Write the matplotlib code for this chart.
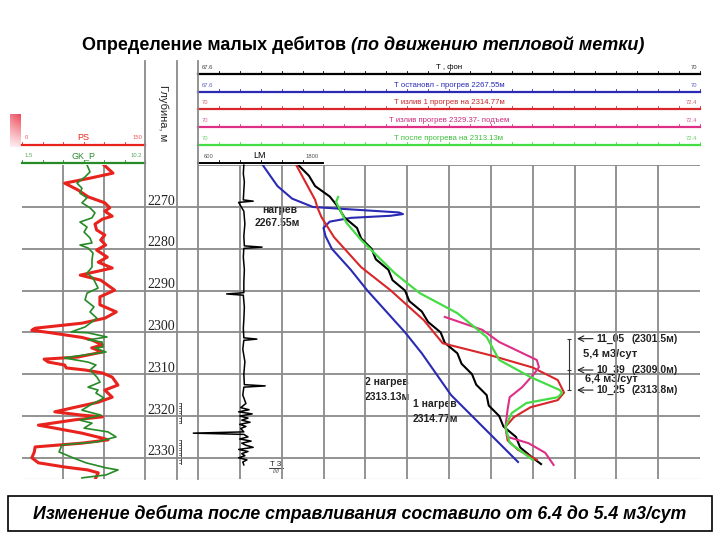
import numpy as np
import matplotlib
matplotlib.use("Agg")
import matplotlib.pyplot as plt

plt.rcParams['font.family'] = ['Liberation Sans', 'DejaVu Sans']

W, H = 720, 540

depth_ticks = [2270, 2280, 2290, 2300, 2310, 2320, 2330]

# PS (0..150) and GK_P (1.5..10.2), left track
ps_depth = [2259.95, 2261.9, 2263.1, 2264.3, 2265.9, 2267.6, 2269.0, 2270.2, 2271.0, 2272.2,
            2272.9, 2274.1, 2275.5, 2276.7, 2277.9, 2279.1, 2280.3, 2282.0, 2283.2, 2284.6,
            2286.3, 2287.5, 2289.9, 2291.5, 2293.4, 2295.1, 2296.6, 2297.8, 2299.0, 2299.5,
            2300.0, 2301.2, 2301.8, 2303.0, 2303.7, 2304.7, 2305.9, 2306.4, 2307.1, 2307.8,
            2308.5, 2309.0, 2309.7, 2310.7, 2312.6, 2313.8, 2315.5, 2316.7, 2317.9, 2319.0,
            2319.8, 2320.2, 2320.9, 2322.2, 2322.9, 2324.1, 2325.3, 2325.7, 2326.5, 2327.4,
            2328.6, 2330.0, 2331.2, 2332.2, 2332.9, 2333.6, 2334.8]
ps_val = [100, 111, 83, 52, 68, 81, 101, 107, 101, 110,
          98, 89, 91, 101, 96, 102, 91, 104, 93, 110,
          71, 96, 113, 95, 95, 115, 101, 73, 16, 12,
          32, 73, 85, 98, 85, 98, 68, 27, 32, 52,
          54, 77, 98, 110, 117, 101, 110, 93, 65, 40,
          73, 98, 65, 20, 40, 73, 98, 105, 73, 16,
          15, 12, 20, 52, 80, 93, 90]

gk_depth = [2259.95, 2261.6, 2262.8, 2264.3, 2265.5, 2266.7, 2267.8, 2269.0, 2270.2, 2271.4,
            2272.6, 2273.6, 2274.8, 2276.0, 2277.4, 2278.6, 2279.1, 2279.8, 2281.0, 2282.7,
            2284.4, 2285.8, 2287.0, 2287.9, 2289.4, 2290.6, 2292.2, 2293.9, 2295.1, 2296.6,
            2298.7, 2299.9, 2300.1, 2301.1, 2301.8, 2302.3, 2303.5, 2303.7, 2304.7, 2305.4,
            2306.1, 2307.1, 2307.8, 2309.0, 2310.7, 2311.9, 2313.1, 2313.8, 2314.5, 2315.7,
            2317.4, 2318.6, 2319.8, 2321.0, 2321.7, 2322.9, 2323.8, 2325.0, 2326.2, 2326.9,
            2328.6, 2330.0, 2331.2, 2332.4, 2332.9, 2334.1, 2334.8]
gk_val = [6.10, 6.31, 5.96, 5.39, 5.74, 5.60, 6.10, 5.74, 6.31, 6.66,
          6.45, 5.60, 6.10, 5.89, 6.31, 6.45, 5.60, 6.17, 6.52, 6.45,
          6.45, 6.10, 6.52, 6.66, 6.88, 6.10, 5.96, 6.59, 6.31, 6.80,
          5.96, 4.97, 6.17, 7.51, 6.17, 7.16, 7.23, 6.66, 7.44, 5.89,
          4.47, 6.17, 6.73, 6.31, 6.80, 7.02, 6.17, 6.88, 6.73, 7.30,
          6.31, 5.74, 7.09, 5.60, 6.45, 5.89, 7.58, 8.15, 6.80, 4.33,
          4.12, 5.11, 6.03, 7.44, 8.29, 7.44, 5.74]

# LM (600..1800)
lm_depth = [2260, 2262, 2264, 2266, 2268.3, 2268.6, 2268.9, 2271, 2274, 2277,
            2279.3, 2279.6, 2279.9, 2282, 2285, 2288, 2290.5, 2290.8, 2291.1, 2294,
            2297, 2299, 2301.3, 2301.6, 2301.9, 2304, 2307, 2310, 2312.5, 2312.8,
            2313.1, 2315, 2317, 2318, 2318.5, 2319, 2319.5, 2320, 2320.5, 2321,
            2321.5, 2322, 2322.5, 2323, 2323.8, 2324.1, 2324.4, 2325, 2325.5, 2326,
            2326.5, 2327, 2327.5, 2328, 2328.5, 2329, 2329.5, 2330, 2330.5, 2331, 2331.7]
lm_val = [1040, 1035, 1045, 1040, 1035, 1130, 990, 1040, 1050, 1040,
          1045, 1215, 1040, 1035, 1045, 1040, 1040, 875, 1035, 1045,
          1040, 1035, 1040, 1165, 1040, 1030, 1050, 1040, 1045, 1245,
          1040, 1030, 1060, 1010, 1090, 990, 1120, 1000, 1080, 1020,
          1100, 1000, 1060, 1010, 1040, 555, 1040, 1080, 1000, 1110,
          1020, 1060, 1130, 990, 1080, 1020, 1050, 990, 1070, 1030, 1040]

# temperature curves
bg_depth = [2260, 2262.5, 2265, 2267.5, 2270, 2272.5, 2275, 2277.5, 2280, 2282.5,
            2285, 2287.5, 2290, 2292.5, 2295, 2297.5, 2300, 2302.5, 2305, 2307.5,
            2310, 2312.5, 2315, 2317.5, 2320, 2322.5, 2325, 2327.5, 2330, 2331.5]
bg_t = [68.08, 68.13, 68.16, 68.23, 68.27, 68.30, 68.36, 68.38, 68.43, 68.45,
        68.51, 68.53, 68.59, 68.61, 68.67, 68.70, 68.76, 68.78, 68.84, 68.86,
        68.91, 68.93, 68.98, 68.99, 69.04, 69.06, 69.12, 69.14, 69.20, 69.24]

stop_depth = [2260, 2265, 2268, 2270, 2270.7, 2271.3, 2271.7, 2272.1, 2272.6, 2273.5,
              2275, 2277, 2280, 2285, 2290, 2295, 2300, 2305, 2310, 2315,
              2320, 2325, 2330, 2331]
stop_t = [67.91, 67.98, 68.05, 68.15, 68.37, 68.56, 68.58, 68.52, 68.33, 68.23,
          68.20, 68.21, 68.24, 68.33, 68.41, 68.50, 68.59, 68.67, 68.74, 68.81,
          68.91, 69.01, 69.11, 69.13]

flow1_depth = [2260, 2268.3, 2270, 2272.4, 2277.2, 2284.4, 2289.9, 2297.1, 2302.6, 2305.5,
               2308.4, 2311.4, 2314.4, 2316.2, 2317.9, 2320.3, 2322.6, 2325.8, 2328.1, 2330.5]
flow1_t = [70.47, 70.56, 70.57, 70.59, 70.65, 70.78, 70.92, 71.08, 71.17, 71.40,
           71.60, 71.72, 71.75, 71.72, 71.59, 71.51, 71.47, 71.48, 71.53, 71.62]

lift_depth = [2296.3, 2299.4, 2302.3, 2306.6, 2308.3, 2309.7, 2313.1, 2315.5, 2318.5, 2322.6,
              2325.0, 2326.5, 2328.8, 2331.7]
lift_t = [71.18, 71.36, 71.44, 71.62, 71.63, 71.61, 71.55, 71.49, 71.48, 71.47,
          71.48, 71.58, 71.66, 71.70]

after_depth = [2267.6, 2268.8, 2273.8, 2277.9, 2285.8, 2290.6, 2295.4, 2301.1, 2306.6, 2310.7,
               2313.8, 2314.5, 2315.5, 2316.9, 2319.3, 2322.6, 2326.4, 2330.5]
after_t = [70.67, 70.66, 70.71, 70.78, 70.94, 71.06, 71.24, 71.38, 71.44, 71.59,
           71.73, 71.74, 71.72, 71.57, 71.50, 71.47, 71.49, 71.60]

header_names = ["Т , фон", "Т остановл - прогрев 2267.55м", "Т излив 1 прогрев на 2314.77м",
                "Т излив прогрев 2329.37- подъем", "Т после прогрева на 2313.13м"]
header_lo = ["67.6", "67.6", "70", "70", "70"]
header_hi = ["70", "70", "72.4", "72.4", "72.4"]
header_col = ["#000000", "#2a2ab4", "#d8262a", "#de2f86", "#45dc45"]
header_txt = ["#000000", "#2a2ab4", "#c8282a", "#c82a7e", "#3cbf3c"]

mark_names = ["11_05", "10_39", "10_25"]
mark_depth = [2301.5, 2309.0, 2313.8]
rates = ["5,4 м3/сут", "6,4 м3/сут"]

# ---------------- layout ----------------
fig = plt.figure(figsize=(7.2, 5.4), dpi=100)
canvas = fig.add_axes([0, 0, 1, 1])
canvas.axis('off')


def rect(x0, y0, x1, y1):
    return [x0 / W, 1 - y1 / H, (x1 - x0) / W, (y1 - y0) / H]


TOP, BOT = 165.2, 478.7
GRIDC = '#8a8a8a'

grid = fig.add_axes(rect(22, TOP, 700, BOT))
grid.set_xlim(22, 700)
grid.set_ylim(2335, 2260)
grid.axis('off')
grid.patch.set_alpha(0)

grid.hlines(depth_ticks, 22, 700, color=GRIDC, lw=1.3)
grid.hlines([2260], 198, 700, color=GRIDC, lw=1.3)
grid.hlines([2335], 22, 700, color=GRIDC, lw=0.8)
for d in depth_ticks:
    grid.text(175, d + 0.15, str(d), ha='right', va='bottom', fontsize=10,
              family='Liberation Serif', color='#222222')

# left track
ax_ps = fig.add_axes(rect(22, TOP, 145, BOT))
ax_gk = fig.add_axes(rect(22, TOP, 145, BOT))
for a in (ax_ps, ax_gk):
    a.set_ylim(2335, 2260)
    a.axis('off')
    a.patch.set_alpha(0)
ax_ps.set_xlim(0, 150)
ax_gk.set_xlim(1.5, 10.2)
ax_ps.vlines([50, 100], 2260, 2335, color=GRIDC, lw=1.3)
ax_ps.plot(ps_val, ps_depth, color='#e8231e', lw=2.2, solid_joinstyle='round')
ax_gk.plot(gk_val, gk_depth, color='#268a26', lw=1.2)

# right track
ax_t1 = fig.add_axes(rect(198, TOP, 700, BOT))
ax_t2 = fig.add_axes(rect(198, TOP, 700, BOT))
ax_lm = fig.add_axes(rect(198, TOP, 323, BOT))
for a in (ax_t1, ax_t2, ax_lm):
    a.set_ylim(2335, 2260)
    a.axis('off')
    a.patch.set_alpha(0)
ax_t1.set_xlim(67.6, 70)
ax_t2.set_xlim(70, 72.4)
ax_lm.set_xlim(600, 1800)
ax_t1.vlines(np.arange(67.8, 69.95, 0.2), 2260, 2335, color=GRIDC, lw=1.3)

ax_lm.plot(lm_val, lm_depth, color='black', lw=1.1, clip_on=False)
ax_t1.plot(stop_t, stop_depth, color=header_col[1], lw=1.5)
ax_t1.plot(bg_t, bg_depth, color='black', lw=1.5)
ax_t2.plot(flow1_t, flow1_depth, color=header_col[2], lw=1.5)
ax_t2.plot(lift_t, lift_depth, color=header_col[3], lw=1.5)
ax_t2.plot(after_t, after_depth, color=header_col[4], lw=1.6)

# annotations in track
bold = dict(fontsize=7.5, fontweight='bold', color='#222222')
grid.text(280, 2270.7, "нагрев", ha='center', va='center', **bold)
grid.text(277, 2273.8, "2267.55м", ha='center', va='center', **bold)
grid.text(365, 2311.9, "2 нагрев", ha='left', va='center', **bold)
grid.text(365, 2315.5, "2313.13м", ha='left', va='center', **bold)
grid.text(413, 2317.1, "1 нагрев", ha='left', va='center', **bold)
grid.text(413, 2320.7, "2314.77м", ha='left', va='center', **bold)

grid.vlines(569, mark_depth[0], mark_depth[-1], color='#333333', lw=0.8)
for name, d in zip(mark_names, mark_depth):
    grid.hlines(d, 567, 571, color='#333333', lw=0.8)
    grid.annotate('', xy=(577, d), xytext=(593, d),
                  arrowprops=dict(arrowstyle='->', lw=0.8, color='#222222',
                                  shrinkA=0, shrinkB=0))
    grid.text(596, d, name, ha='left', va='center', **bold)
    grid.text(632, d, f"({d:.1f}м)", ha='left', va='center', **bold)
grid.text(583, (mark_depth[0] + mark_depth[1]) / 2, rates[0], ha='left', va='center',
          fontsize=8, fontweight='bold', color='#222222')
grid.text(585, 2311.2, rates[1], ha='left', va='center',
          fontsize=7.8, fontweight='bold', color='#222222')

# ruler marks near depth column
for y0, y1 in [(403, 423), (440, 464)]:
    canvas.plot([181, 181], [y0, y1], color='#444444', lw=0.7)
    for yy in np.arange(y0, y1 + 0.1, 2.5):
        canvas.plot([178.5, 181], [yy, yy], color='#444444', lw=0.5)

# ---------------- headers ----------------
line_y = [74, 92, 109, 127, 144.5]
for i, ly in enumerate(line_y):
    c = header_col[i]
    canvas.plot([198, 700], [ly, ly], color=c, lw=1.6)
    for tx in np.arange(198 + 20.9, 700, 20.9):
        canvas.plot([tx, tx], [ly, ly - 3], color=c, lw=0.6)
    canvas.text(449, ly - 6.5, header_names[i], ha='center', va='center',
                fontsize=5.6, color=header_txt[i])
    canvas.text(202, ly - 6.5, header_lo[i], ha='left', va='center', fontsize=4.2,
                color=header_txt[i], alpha=0.75)
    canvas.text(697, ly - 6.5, header_hi[i], ha='right', va='center', fontsize=4.2,
                color=header_txt[i], alpha=0.75)

# LM header
canvas.plot([198, 323], [162.5, 162.5], color='black', lw=1.4)
for tx in np.arange(198 + 20.9, 323, 20.9):
    canvas.plot([tx, tx], [162.5, 159.5], color='black', lw=0.6)
canvas.text(260, 155, "LM", ha='center', va='center', fontsize=6.5, color='black')
canvas.text(204, 156, "600", ha='left', va='center', fontsize=4.2, color='#555555')
canvas.text(319, 156, "1800", ha='right', va='center', fontsize=4.2, color='#555555')

# PS / GK_P headers
for ly, c, name, lo, hi in [(144.5, '#e8231e', "PS", "0", "150"),
                            (162.5, '#268a26', "GK_P", "1.5", "10.2")]:
    canvas.plot([22, 145], [ly, ly], color=c, lw=1.6)
    for tx in np.arange(22, 146, 20.5):
        canvas.plot([tx, tx], [ly, ly - 3], color=c, lw=0.6)
    canvas.text(83, ly - 7, name, ha='center', va='center', fontsize=6.5, color=c)
    canvas.text(25, ly - 7, lo, ha='left', va='center', fontsize=4.2, color=c, alpha=0.75)
    canvas.text(142, ly - 7, hi, ha='right', va='center', fontsize=4.2, color=c, alpha=0.75)

# track frame lines
for x in (145, 177, 198):
    canvas.plot([x, x], [61, BOT], color=GRIDC, lw=1.3)

canvas.text(163, 113, "Глубина, м", rotation=-90, ha='center', va='center',
            fontsize=8, color='#222222')
canvas.text(276, 464, "Т З", ha='center', va='center', fontsize=5.5, color='#222222')
canvas.plot([269, 283], [468, 468], color='#222222', lw=0.6)
canvas.text(276, 471.5, "////", ha='center', va='center', fontsize=4, color='#222222')

# red gradient marker
grad = np.zeros((30, 10, 4))
grad[..., 0] = 0.93
grad[..., 1] = 0.25
grad[..., 2] = 0.32
grad[..., 3] = np.linspace(0.95, 0.12, 30)[:, None] * np.linspace(0.75, 1.0, 10)[None, :]
canvas.imshow(grad, extent=[10, 21, 147, 114], aspect='auto', zorder=1)

# title
canvas.text(346, 45, "Определение малых дебитов", ha='right', va='center',
            fontsize=13, fontweight='bold')
canvas.text(351, 45, "(по движению тепловой метки)", ha='left', va='center',
            fontsize=13, fontweight='bold', fontstyle='italic')

# bottom box
canvas.add_patch(plt.Rectangle((8, 496), 704, 35, fill=False, lw=1.2, ec='black'))
canvas.text(360, 513.5, "Изменение дебита после стравливания составило от 6.4 до 5.4 м3/сут",
            ha='center', va='center', fontsize=12.8, fontweight='bold', fontstyle='italic')

canvas.set_xlim(0, W)
canvas.set_ylim(H, 0)

fig.savefig("out.png", dpi=100)
